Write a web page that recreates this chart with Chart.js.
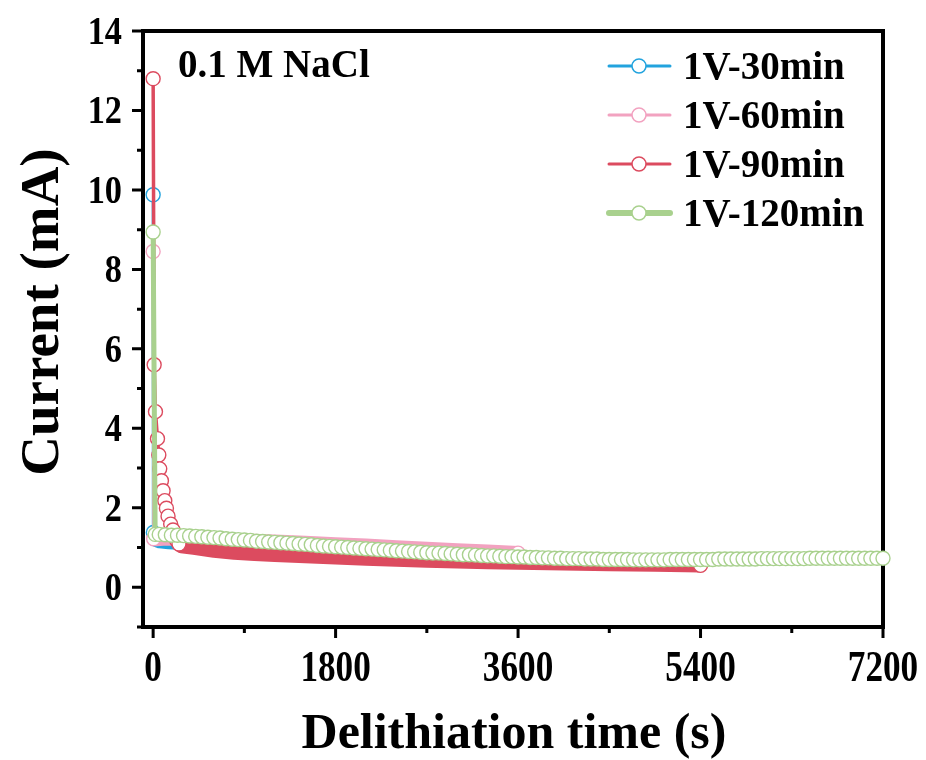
<!DOCTYPE html>
<html>
<head>
<meta charset="utf-8">
<script src="https://cdn.jsdelivr.net/npm/chart.js@4.4.1/dist/chart.umd.min.js"></script>
<style>
  html, body { margin: 0; padding: 0; background: #fff; }
  #wrap { width: 926px; height: 760px; }
</style>
</head>
<body>
<div id="wrap"><canvas id="chart"></canvas></div>
<script>
// values: delithiation time (s) and current (mA)
var seriesNames = ["1V-30min", "1V-60min", "1V-90min", "1V-120min"];

var t30 = [0, 2, 15, 60, 150, 300, 600, 1000, 1400, 1800];
var i30 = [9.88, 1.38, 1.12, 1.08, 1.06, 1.04, 1.03, 1.02, 1.01, 1.00];

var t60 = [0, 5, 30, 100, 300, 600, 900, 1200, 1500, 1800, 2100, 2400, 2700, 3000, 3300, 3600];
var i60 = [8.45, 1.22, 1.21, 1.22, 1.23, 1.21, 1.18, 1.15, 1.12, 1.08, 1.05, 1.01, 0.97, 0.93, 0.90, 0.86];

var t90 = [0, 10, 23, 43, 56, 65, 82, 98, 115, 131, 147, 173, 196, 212, 232, 255, 280,
  400, 600, 800, 1000, 1200, 1500, 1800, 2100, 2400, 2700, 3000, 3300, 3600, 4050, 4500, 4950, 5400];
var i90 = [12.8, 5.6, 4.42, 3.74, 3.33, 2.98, 2.68, 2.43, 2.18, 1.99, 1.79, 1.59, 1.44, 1.30, 1.18, 1.09, 1.03,
  0.99, 0.92, 0.87, 0.84, 0.81, 0.78, 0.75, 0.72, 0.69, 0.67, 0.65, 0.63, 0.62, 0.60, 0.58, 0.565, 0.55];

var t120 = [0, 20,
  60, 120, 180, 240, 300, 360, 420, 480, 540, 600,
  660, 720, 780, 840, 900, 960, 1020, 1080, 1140, 1200,
  1260, 1320, 1380, 1440, 1500, 1560, 1620, 1680, 1740, 1800,
  1860, 1920, 1980, 2040, 2100, 2160, 2220, 2280, 2340, 2400,
  2460, 2520, 2580, 2640, 2700, 2760, 2820, 2880, 2940, 3000,
  3060, 3120, 3180, 3240, 3300, 3360, 3420, 3480, 3540, 3600,
  3660, 3720, 3780, 3840, 3900, 3960, 4020, 4080, 4140, 4200,
  4260, 4320, 4380, 4440, 4500, 4560, 4620, 4680, 4740, 4800,
  4860, 4920, 4980, 5040, 5100, 5160, 5220, 5280, 5340, 5400,
  5460, 5520, 5580, 5640, 5700, 5760, 5820, 5880, 5940, 6000,
  6060, 6120, 6180, 6240, 6300, 6360, 6420, 6480, 6540, 6600,
  6660, 6720, 6780, 6840, 6900, 6960, 7020, 7080, 7140, 7200];
var i120 = [8.94, 1.33,
  1.33, 1.32, 1.31, 1.31, 1.30, 1.29, 1.28, 1.27, 1.26, 1.25,
  1.24, 1.22, 1.21, 1.20, 1.19, 1.18, 1.16, 1.15, 1.14, 1.13,
  1.12, 1.11, 1.10, 1.09, 1.08, 1.07, 1.05, 1.04, 1.03, 1.02,
  1.01, 1.00, 0.99, 0.98, 0.97, 0.96, 0.95, 0.94, 0.93, 0.92,
  0.91, 0.90, 0.89, 0.88, 0.87, 0.86, 0.86, 0.85, 0.84, 0.83,
  0.82, 0.82, 0.81, 0.80, 0.79, 0.79, 0.78, 0.77, 0.77, 0.76,
  0.76, 0.75, 0.75, 0.74, 0.74, 0.73, 0.73, 0.72, 0.72, 0.72,
  0.71, 0.71, 0.71, 0.70, 0.70, 0.70, 0.70, 0.70, 0.69, 0.69,
  0.69, 0.69, 0.69, 0.69, 0.70, 0.70, 0.70, 0.70, 0.70, 0.70,
  0.70, 0.70, 0.71, 0.71, 0.71, 0.71, 0.71, 0.71, 0.71, 0.72,
  0.72, 0.72, 0.72, 0.72, 0.72, 0.72, 0.72, 0.73, 0.73, 0.73,
  0.73, 0.73, 0.73, 0.73, 0.73, 0.73, 0.73, 0.73, 0.73, 0.73];

var xMajor = [0, 1800, 3600, 5400, 7200];
var xMinor = [900, 2700, 4500, 6300];
var yMajor = [0, 2, 4, 6, 8, 10, 12, 14];
var yMinor = [-1, 1, 3, 5, 7, 9, 11, 13];

var colors = ["#22a3de", "#f2a2c0", "#dc4b5f", "#a9d18e"];
var SERIF = '"Liberation Serif", "Times New Roman", serif';

function pts(t, v) {
  return t.map(function (x, k) { return { x: x, y: v[k] }; });
}

function drawText(ctx, text, x, y, size, sx, align) {
  ctx.save();
  ctx.font = "bold " + size + "px " + SERIF;
  ctx.textAlign = align;
  ctx.textBaseline = "alphabetic";
  ctx.fillStyle = "#000";
  ctx.translate(x, y);
  ctx.scale(sx, 1);
  ctx.fillText(text, 0, 0);
  ctx.restore();
}

// frame + ticks under the data, like the original
var framePlugin = {
  id: "frame",
  beforeDatasetsDraw: function (chart) {
    var ctx = chart.ctx, a = chart.chartArea;
    var xs = chart.scales.x, ys = chart.scales.y;
    ctx.save();
    ctx.strokeStyle = "#000";
    ctx.lineWidth = 3;
    ctx.beginPath();
    yMajor.forEach(function (v) { var p = ys.getPixelForValue(v); ctx.moveTo(a.left, p); ctx.lineTo(a.left - 11, p); });
    yMinor.forEach(function (v) { var p = ys.getPixelForValue(v); ctx.moveTo(a.left, p); ctx.lineTo(a.left - 6, p); });
    xMajor.forEach(function (v) { var p = xs.getPixelForValue(v); ctx.moveTo(p, a.bottom); ctx.lineTo(p, a.bottom + 11); });
    xMinor.forEach(function (v) { var p = xs.getPixelForValue(v); ctx.moveTo(p, a.bottom); ctx.lineTo(p, a.bottom + 6); });
    ctx.stroke();
    ctx.lineWidth = 4;
    ctx.strokeRect(a.left, a.top, a.right - a.left, a.bottom - a.top);
    ctx.restore();
  },
  afterDraw: function (chart) {
    var ctx = chart.ctx, a = chart.chartArea;
    var xs = chart.scales.x, ys = chart.scales.y;
    yMajor.forEach(function (v) {
      drawText(ctx, String(v), a.left - 21, ys.getPixelForValue(v) + 13, 39, 0.88, "right");
    });
    xMajor.forEach(function (v) {
      drawText(ctx, String(v), xs.getPixelForValue(v), 681, 44, 0.8, "center");
    });
    drawText(ctx, "Delithiation time (s)", 514, 748, 50, 1, "center");
    ctx.save();
    ctx.translate(58, 312);
    ctx.rotate(-Math.PI / 2);
    ctx.font = "bold 55px " + SERIF;
    ctx.textAlign = "center";
    ctx.textBaseline = "alphabetic";
    ctx.fillStyle = "#000";
    ctx.fillText("Current (mA)", 0, 0);
    ctx.restore();
    drawText(ctx, "0.1 M NaCl", 178, 77, 39, 1, "left");

    // legend: line + open circle + label
    var rows = [66, 115, 164, 213];
    seriesNames.forEach(function (name, k) {
      var y = rows[k];
      ctx.save();
      ctx.strokeStyle = colors[k];
      ctx.lineWidth = k === 3 ? 6 : 3;
      ctx.lineCap = "round";
      ctx.beginPath();
      ctx.moveTo(609, y);
      ctx.lineTo(670, y);
      ctx.stroke();
      ctx.beginPath();
      ctx.arc(639, y, 7, 0, Math.PI * 2);
      ctx.fillStyle = "#fff";
      ctx.fill();
      ctx.lineWidth = 1.5;
      ctx.stroke();
      ctx.restore();
      drawText(ctx, name, 683, y + 13, 39, 1, "left");
    });
  }
};

function ptRadius(shown) {
  return function (c) { return shown(c.dataIndex, c.dataset.data.length) ? 7 : 0; };
}

var datasets = [
  {
    label: seriesNames[3], data: pts(t120, i120), order: 0,
    borderColor: colors[3], borderWidth: 5, pointBorderColor: colors[3],
    pointRadius: 7
  },
  {
    label: seriesNames[2], data: pts(t90, i90), order: 1,
    borderColor: colors[2], pointBorderColor: colors[2],
    segment: { borderWidth: function (c) { return c.p0DataIndex >= 14 ? 14 : 3.5; } },
    pointRadius: ptRadius(function (k, n) { return k <= 15 || k === n - 1; })
  },
  {
    label: seriesNames[1], data: pts(t60, i60), order: 2,
    borderColor: colors[1], pointBorderColor: colors[1],
    segment: { borderWidth: function (c) { return c.p0DataIndex >= 1 ? 14 : 3; } },
    pointRadius: ptRadius(function (k, n) { return k <= 1 || k === n - 1; })
  },
  {
    label: seriesNames[0], data: pts(t30, i30), order: 3,
    borderColor: colors[0], pointBorderColor: colors[0],
    segment: { borderWidth: function (c) { return c.p0DataIndex >= 2 ? 8 : 3; } },
    pointRadius: ptRadius(function (k, n) { return k <= 1 || k === n - 1; })
  }
];
datasets.forEach(function (d) {
  d.pointBackgroundColor = "#fff";
  d.pointBorderWidth = 1.4;
  d.borderJoinStyle = "round";
  d.borderCapStyle = "round";
  d.tension = 0;
  d.clip = false;
});

new Chart(document.getElementById("chart"), {
  type: "line",
  data: { datasets: datasets },
  options: {
    responsive: true,
    maintainAspectRatio: false,
    animation: false,
    layout: { padding: { left: 143, right: 43, top: 31, bottom: 133 } },
    plugins: { legend: { display: false }, tooltip: { enabled: false } },
    scales: {
      x: { type: "linear", min: -100, max: 7200, display: false },
      y: { type: "linear", min: -1, max: 14, display: false }
    }
  },
  plugins: [framePlugin]
});
</script>
</body>
</html>
